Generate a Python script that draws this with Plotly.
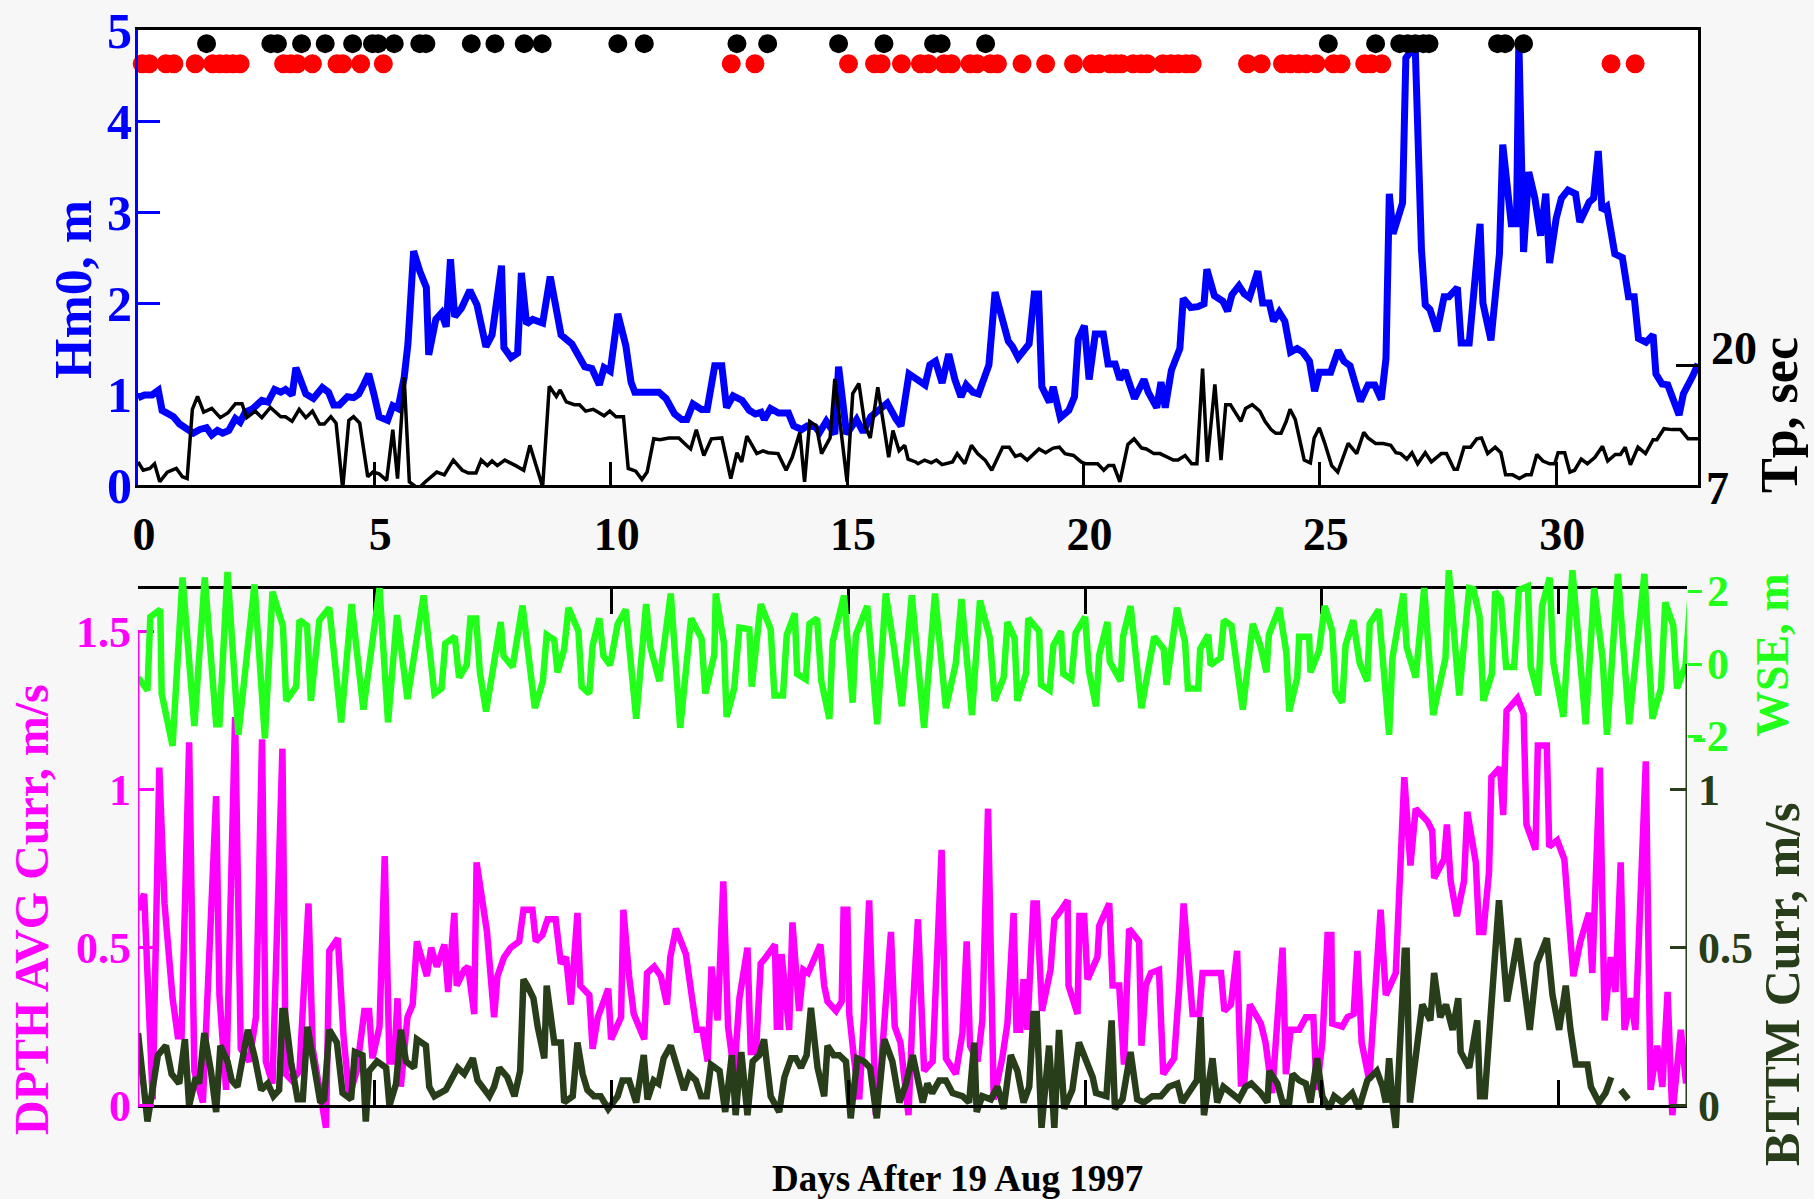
import plotly.graph_objects as go

# ---------------------------------------------------------------- data
# Upper panel: spectral wave height Hm0 (m) and peak period Tp (s)
hmo_day = [0.00, 0.14, 0.30, 0.43, 0.51, 0.62, 0.75, 0.88, 1.04, 1.17, 1.31, 1.45, 1.56, 1.68, 1.79, 1.92,
           2.06, 2.16, 2.27, 2.43, 2.62, 2.75, 2.89, 3.02, 3.12, 3.26, 3.34, 3.55, 3.71, 3.90, 4.03, 4.14,
           4.26, 4.43, 4.56, 4.67, 4.78, 4.88, 4.99, 5.10, 5.28, 5.39, 5.50, 5.63, 5.71, 5.83, 5.96, 6.10,
           6.15, 6.30, 6.42, 6.52, 6.61, 6.70, 6.84, 7.02, 7.17, 7.36, 7.49, 7.69, 7.74, 7.89, 8.03, 8.11,
           8.22, 8.35, 8.56, 8.72, 8.95, 9.18, 9.45, 9.60, 9.76, 9.86, 9.99, 10.15, 10.32, 10.43, 10.51, 11.02,
           11.17, 11.35, 11.50, 11.61, 11.74, 11.92, 12.04, 12.20, 12.35, 12.45, 12.59, 12.78, 12.93, 13.06, 13.18, 13.25,
           13.38, 13.55, 13.76, 13.87, 14.04, 14.16, 14.32, 14.42, 14.56, 14.74, 14.82, 14.99, 15.20, 15.34, 15.50, 15.67,
           15.85, 16.03, 16.14, 16.31, 16.48, 16.65, 16.75, 16.87, 17.01, 17.15, 17.28, 17.41, 17.52, 17.66, 17.78, 18.00,
           18.13, 18.29, 18.41, 18.50, 18.62, 18.85, 18.96, 19.05, 19.12, 19.28, 19.36, 19.51, 19.69, 19.81, 19.89, 20.02,
           20.12, 20.25, 20.42, 20.52, 20.67, 20.77, 20.88, 21.08, 21.28, 21.37, 21.55, 21.64, 21.73, 21.86, 22.04, 22.11,
           22.27, 22.42, 22.55, 22.61, 22.77, 22.95, 23.05, 23.14, 23.29, 23.40, 23.51, 23.69, 23.79, 23.93, 24.02, 24.14,
           24.26, 24.38, 24.52, 24.64, 24.78, 24.89, 24.99, 25.23, 25.39, 25.51, 25.64, 25.86, 26.02, 26.16, 26.30, 26.40,
           26.47, 26.55, 26.65, 26.75, 26.82, 26.94, 27.02, 27.15, 27.23, 27.33, 27.48, 27.63, 27.73, 27.91, 27.99, 28.16,
           28.39, 28.45, 28.62, 28.80, 28.87, 28.97, 29.05, 29.16, 29.21, 29.31, 29.42, 29.55, 29.67, 29.78, 29.86, 30.00,
           30.11, 30.25, 30.41, 30.50, 30.70, 30.79, 30.89, 30.97, 31.07, 31.24, 31.40, 31.53, 31.65, 31.74, 31.90, 32.05,
           32.11, 32.24, 32.36, 32.60, 32.69, 32.89, 33.00]
hmo_m = [0.96, 0.99, 0.99, 1.04, 0.82, 0.78, 0.75, 0.67, 0.62, 0.57, 0.61, 0.63, 0.55, 0.60, 0.57, 0.60,
         0.73, 0.69, 0.80, 0.84, 0.93, 0.91, 1.05, 1.02, 1.05, 0.99, 1.29, 1.00, 0.95, 1.07, 1.02, 0.88,
         0.88, 0.97, 0.96, 1.00, 1.11, 1.22, 1.00, 0.75, 0.71, 0.87, 0.84, 1.18, 1.55, 2.57, 2.35, 2.17,
         1.43, 1.82, 1.89, 1.74, 2.48, 1.85, 1.94, 2.14, 1.98, 1.52, 1.65, 2.41, 1.51, 1.40, 1.45, 2.33,
         1.77, 1.82, 1.78, 2.29, 1.65, 1.55, 1.30, 1.28, 1.10, 1.29, 1.25, 1.88, 1.53, 1.13, 1.02, 1.02,
         0.95, 0.78, 0.72, 0.72, 0.89, 0.83, 0.83, 1.31, 1.31, 0.85, 0.98, 0.93, 0.82, 0.78, 0.80, 0.72,
         0.84, 0.79, 0.79, 0.65, 0.61, 0.65, 0.64, 0.58, 0.70, 0.56, 1.30, 0.56, 0.72, 0.58, 0.75, 0.82,
         0.90, 0.73, 0.65, 1.22, 1.15, 1.10, 1.32, 1.36, 1.12, 1.44, 1.16, 0.97, 1.10, 1.02, 1.00, 1.32,
         2.12, 1.81, 1.58, 1.52, 1.40, 1.55, 2.10, 2.10, 1.08, 0.91, 1.08, 0.74, 0.82, 0.97, 1.60, 1.75,
         1.16, 1.66, 1.66, 1.33, 1.33, 1.16, 1.26, 0.95, 1.16, 1.02, 0.85, 1.13, 0.85, 1.26, 1.50, 2.05,
         1.95, 1.96, 1.99, 2.37, 2.08, 2.02, 1.91, 2.09, 2.19, 2.10, 2.06, 2.35, 2.00, 2.00, 1.80, 1.90,
         1.80, 1.46, 1.50, 1.46, 1.36, 1.03, 1.24, 1.24, 1.48, 1.36, 1.31, 0.92, 1.10, 1.10, 0.94, 1.39,
         3.20, 2.76, 2.93, 3.10, 4.69, 4.78, 4.78, 2.59, 1.98, 1.93, 1.69, 2.07, 2.07, 2.17, 1.56, 1.56,
         2.87, 2.00, 1.59, 2.54, 3.74, 3.30, 2.87, 2.87, 4.89, 2.56, 3.44, 3.15, 2.74, 3.20, 2.44, 2.93,
         3.15, 3.24, 3.20, 2.89, 3.11, 3.15, 3.67, 3.02, 3.06, 2.54, 2.50, 2.07, 2.07, 1.61, 1.57, 1.65,
         1.22, 1.11, 1.10, 0.77, 1.00, 1.20, 1.33]

tp_day = [0.00, 0.11, 0.25, 0.35, 0.46, 0.62, 0.81, 0.94, 1.04, 1.15, 1.26, 1.39, 1.56, 1.74, 1.90, 2.06,
          2.20, 2.30, 2.48, 2.62, 2.80, 3.02, 3.12, 3.26, 3.41, 3.55, 3.69, 3.84, 3.94, 4.08, 4.19, 4.33,
          4.46, 4.56, 4.69, 4.86, 4.97, 5.10, 5.26, 5.39, 5.49, 5.63, 5.74, 5.93, 6.08, 6.32, 6.48, 6.67,
          6.86, 6.99, 7.15, 7.26, 7.39, 7.49, 7.60, 7.76, 7.99, 8.16, 8.29, 8.43, 8.56, 8.70, 8.85, 8.93,
          9.06, 9.23, 9.34, 9.47, 9.63, 9.86, 9.98, 10.11, 10.27, 10.37, 10.53, 10.66, 10.77, 10.91, 11.04, 11.23,
          11.44, 11.60, 11.69, 11.81, 11.97, 12.13, 12.35, 12.54, 12.67, 12.77, 12.88, 13.09, 13.22, 13.33, 13.54, 13.71,
          13.84, 14.00, 14.10, 14.21, 14.35, 14.46, 14.64, 14.74, 15.00, 15.12, 15.25, 15.38, 15.49, 15.65, 15.76, 15.88,
          15.97, 16.10, 16.22, 16.29, 16.45, 16.50, 16.64, 16.78, 16.89, 17.01, 17.23, 17.33, 17.49, 17.63, 17.76, 17.92,
          18.06, 18.17, 18.29, 18.43, 18.56, 18.67, 18.81, 19.06, 19.20, 19.36, 19.49, 19.61, 19.79, 19.95, 20.05, 20.30,
          20.43, 20.53, 20.64, 20.77, 20.94, 21.07, 21.23, 21.33, 21.49, 21.62, 21.76, 21.90, 22.00, 22.15, 22.29, 22.40,
          22.52, 22.62, 22.78, 22.91, 23.01, 23.11, 23.33, 23.43, 23.57, 23.73, 23.84, 23.97, 24.07, 24.18, 24.29, 24.37,
          24.48, 24.67, 24.80, 24.88, 24.99, 25.10, 25.25, 25.38, 25.60, 25.78, 25.93, 26.02, 26.18, 26.34, 26.50, 26.61,
          26.71, 26.84, 26.95, 27.07, 27.23, 27.36, 27.57, 27.68, 27.84, 27.91, 28.05, 28.19, 28.32, 28.42, 28.55, 28.71,
          28.83, 28.93, 29.08, 29.22, 29.36, 29.47, 29.59, 29.72, 29.86, 29.97, 30.04, 30.18, 30.29, 30.39, 30.53, 30.66,
          30.82, 30.98, 31.09, 31.25, 31.36, 31.46, 31.57, 31.73, 31.89, 32.05, 32.13, 32.28, 32.45, 32.63, 32.79, 33.00]
tp_sec = [9.5, 8.6, 8.8, 9.3, 7.35, 8.4, 8.8, 7.9, 7.7, 15.2, 16.6, 14.9, 15.3, 14.3, 14.8, 15.8,
          15.8, 14.3, 15.0, 14.3, 15.4, 14.4, 14.4, 13.9, 15.2, 14.3, 15.0, 13.6, 13.6, 14.4, 13.7, 6.6,
          14.0, 14.4, 13.7, 7.9, 8.4, 8.2, 7.5, 13.0, 7.7, 18.7, 7.35, 6.6, 7.35, 8.4, 8.1, 9.7,
          8.6, 8.3, 8.3, 9.7, 9.1, 9.6, 9.1, 9.7, 9.1, 8.6, 11.3, 8.8, 6.8, 17.7, 16.6, 17.3,
          16.0, 15.7, 15.7, 15.0, 15.2, 14.5, 15.0, 14.4, 14.4, 8.8, 8.5, 7.6, 8.4, 12.0, 11.9, 12.1,
          12.1, 11.3, 10.9, 13.0, 10.2, 12.0, 12.1, 7.7, 10.5, 9.5, 12.3, 10.4, 10.7, 10.5, 10.4, 8.6,
          10.0, 12.7, 7.35, 13.9, 13.4, 10.4, 12.1, 18.5, 7.35, 16.9, 18.0, 13.4, 12.1, 17.6, 13.7, 10.0,
          12.9, 10.7, 11.3, 9.8, 9.5, 9.3, 9.7, 9.4, 9.7, 9.2, 9.5, 10.4, 9.3, 11.3, 10.4, 9.7,
          8.6, 9.8, 11.1, 11.1, 10.1, 10.3, 9.7, 10.9, 10.5, 11.0, 11.1, 10.4, 10.2, 9.5, 9.3, 9.3,
          8.6, 9.1, 9.1, 7.35, 11.4, 12.0, 11.0, 10.9, 10.4, 10.4, 10.0, 9.7, 9.7, 10.2, 9.3, 9.3,
          19.6, 9.5, 17.9, 9.7, 15.7, 15.7, 13.9, 15.3, 15.7, 15.0, 13.9, 13.0, 12.6, 12.6, 13.9, 15.2,
          14.1, 9.7, 9.4, 12.1, 13.2, 11.6, 9.1, 8.4, 11.5, 10.4, 12.7, 12.1, 11.5, 11.5, 11.3, 10.5,
          10.4, 9.8, 10.5, 9.3, 10.5, 9.5, 10.4, 10.4, 8.7, 8.7, 11.1, 11.1, 12.0, 12.1, 10.4, 11.1,
          10.5, 8.1, 8.1, 7.7, 8.1, 8.1, 10.3, 9.6, 9.3, 9.3, 10.5, 10.5, 8.4, 8.6, 9.8, 9.3,
          10.0, 11.2, 9.6, 10.3, 10.3, 11.1, 9.2, 11.1, 10.4, 11.9, 11.9, 13.1, 13.0, 13.0, 12.0, 12.0]

# Event marks along the top of the upper panel (days)
red_flag_day = [0.09, 0.24, 0.59, 0.76, 1.21, 1.58, 1.73, 1.87, 2.01, 2.16, 3.08, 3.23, 3.37, 3.69, 4.21,
                4.33, 4.71, 5.19, 12.55, 13.05, 15.03, 15.58, 15.72, 16.15, 16.55, 16.72, 17.05, 17.21, 17.60,
                17.75, 18.03, 18.18, 18.70, 19.20, 19.79, 20.18, 20.33, 20.56, 20.68, 20.80, 21.05, 21.22, 21.35,
                21.68, 21.85, 22.00, 22.17, 22.30, 23.47, 23.76, 24.21, 24.38, 24.55, 24.71, 24.92, 25.29, 25.45,
                25.95, 26.09, 26.31, 31.16, 31.67]
black_flag_day = [1.45, 2.81, 2.95, 3.46, 3.96, 4.54, 4.96, 5.08, 5.42, 5.96, 6.09, 7.05, 7.55, 8.17, 8.55,
                  10.15, 10.71, 12.67, 13.32, 14.82, 15.78, 16.83, 16.99, 17.93, 25.18, 26.18, 26.69, 26.86,
                  27.02, 27.19, 27.31, 28.76, 28.92, 29.31]

# Lower panel: depth-averaged current (m/s)
dpth_day = [0.00, 0.13, 0.31, 0.45, 0.56, 0.73, 0.84, 0.92, 1.08, 1.19, 1.37, 1.65, 1.72, 1.86, 2.05, 2.17,
            2.35, 2.49, 2.62, 2.70, 2.84, 3.05, 3.12, 3.25, 3.41, 3.60, 3.69, 3.90, 3.97, 4.04, 4.22, 4.34,
            4.46, 4.62, 4.78, 4.88, 4.95, 5.10, 5.21, 5.31, 5.41, 5.48, 5.55, 5.69, 5.80, 5.89, 6.10, 6.19,
            6.31, 6.47, 6.55, 6.68, 6.73, 6.89, 6.97, 7.10, 7.15, 7.37, 7.52, 7.59, 7.73, 7.87, 8.05, 8.14,
            8.33, 8.40, 8.54, 8.65, 8.82, 8.93, 9.04, 9.14, 9.28, 9.34, 9.53, 9.60, 9.71, 9.93, 9.99, 10.20,
            10.25, 10.37, 10.47, 10.69, 10.75, 10.90, 11.04, 11.17, 11.24, 11.36, 11.57, 11.71, 11.80, 11.92, 12.03, 12.11,
            12.24, 12.36, 12.46, 12.59, 12.70, 12.87, 12.94, 13.05, 13.15, 13.26, 13.45, 13.49, 13.56, 13.59, 13.75, 13.82,
            13.96, 14.05, 14.15, 14.41, 14.49, 14.56, 14.74, 14.86, 14.90, 14.98, 15.02, 15.12, 15.23, 15.33, 15.44, 15.58,
            15.68, 15.90, 15.98, 16.10, 16.27, 16.36, 16.47, 16.60, 16.78, 16.97, 17.06, 17.27, 17.41, 17.50, 17.57, 17.73,
            17.83, 17.95, 18.07, 18.25, 18.36, 18.49, 18.55, 18.63, 18.70, 18.78, 18.91, 18.98, 19.09, 19.27, 19.35, 19.45,
            19.63, 19.65, 19.84, 19.88, 19.98, 20.05, 20.26, 20.30, 20.51, 20.58, 20.72, 20.82, 20.93, 21.14, 21.19, 21.28,
            21.39, 21.56, 21.65, 21.88, 21.99, 22.08, 22.20, 22.27, 22.41, 22.48, 22.87, 22.94, 23.08, 23.21, 23.29, 23.36,
            23.48, 23.71, 23.81, 23.95, 24.17, 24.24, 24.34, 24.52, 24.66, 24.82, 24.89, 25.01, 25.12, 25.20, 25.22, 25.43,
            25.54, 25.67, 25.75, 25.84, 26.00, 26.24, 26.35, 26.56, 26.74, 26.87, 26.98, 27.14, 27.23, 27.33, 27.37, 27.58,
            27.64, 27.72, 27.85, 28.00, 28.07, 28.25, 28.32, 28.41, 28.53, 28.58, 28.76, 28.83, 28.90, 29.13, 29.26, 29.32,
            29.51, 29.56, 29.75, 29.80, 29.97, 30.12, 30.31, 30.46, 30.64, 30.71, 30.87, 30.97, 31.10, 31.20, 31.31, 31.39,
            31.52, 31.62, 31.84, 31.94, 32.08, 32.19, 32.30, 32.40, 32.58, 32.69]
dpth_curr = [0.62, 0.67, 0.02, 1.07, 0.64, 0.34, 0.22, 0.22, 1.15, 0.11, 0.01, 0.98, 0.35, 0.05, 1.23, 0.18,
             0.14, 0.28, 1.16, 0.14, 0.07, 1.13, 0.10, 0.08, 0.11, 0.64, 0.18, 0.00, -0.07, 0.49, 0.53, 0.22,
             0.03, 0.11, 0.30, 0.30, 0.15, 0.25, 0.79, 0.14, 0.14, 0.34, 0.06, 0.28, 0.32, 0.52, 0.41, 0.50,
             0.44, 0.51, 0.36, 0.61, 0.38, 0.43, 0.44, 0.29, 0.77, 0.55, 0.28, 0.41, 0.47, 0.50, 0.52, 0.62,
             0.62, 0.52, 0.54, 0.59, 0.59, 0.45, 0.47, 0.32, 0.61, 0.38, 0.35, 0.18, 0.28, 0.37, 0.21, 0.28,
             0.62, 0.41, 0.29, 0.21, 0.42, 0.44, 0.41, 0.32, 0.47, 0.56, 0.48, 0.33, 0.24, 0.24, 0.14, 0.44,
             0.27, 0.71, 0.25, 0.10, 0.34, 0.50, 0.17, 0.17, 0.45, 0.47, 0.51, 0.25, 0.25, 0.48, 0.24, 0.58,
             0.30, 0.43, 0.42, 0.51, 0.38, 0.33, 0.30, 0.33, 0.62, 0.62, 0.29, 0.15, 0.02, 0.28, 0.65, -0.03,
             0.10, 0.55, 0.25, 0.20, -0.03, 0.30, 0.59, 0.11, 0.14, 0.81, 0.15, 0.10, 0.23, 0.52, 0.19, 0.14,
             0.27, 0.94, 0.02, 0.15, 0.26, 0.61, 0.24, 0.24, 0.40, 0.24, 0.64, 0.64, 0.30, 0.43, 0.59, 0.61,
             0.65, 0.38, 0.29, 0.60, 0.60, 0.40, 0.47, 0.57, 0.64, 0.38, 0.38, 0.13, 0.56, 0.52, 0.19, 0.38,
             0.42, 0.43, 0.10, 0.15, 0.38, 0.64, 0.40, 0.29, 0.29, 0.42, 0.42, 0.30, 0.32, 0.49, 0.07, 0.07,
             0.32, 0.26, 0.20, 0.04, 0.50, 0.10, 0.24, 0.24, 0.28, 0.28, 0.05, 0.20, 0.54, 0.54, 0.26, 0.25,
             0.28, 0.29, 0.49, 0.20, 0.08, 0.62, 0.35, 0.42, 1.04, 0.76, 0.94, 0.91, 0.90, 0.87, 0.72, 0.78,
             0.89, 0.71, 0.60, 0.71, 0.93, 0.77, 0.55, 0.55, 0.74, 1.04, 1.07, 0.92, 1.25, 1.29, 1.24, 0.89,
             0.81, 1.14, 1.14, 0.82, 0.84, 0.78, 0.41, 0.52, 0.61, 0.42, 1.07, 0.27, 0.47, 0.36, 0.77, 0.24,
             0.34, 0.24, 1.09, 0.05, 0.19, 0.06, 0.36, -0.03, 0.24, 0.07]

# Lower panel: bottom current (m/s); None marks a data gap
bttm_day = [0.00, 0.10, 0.20, 0.42, 0.59, 0.71, 0.87, 0.99, 1.08, 1.22, 1.29, 1.40, 1.54, 1.65, 1.74, 1.89,
            1.98, 2.10, 2.32, 2.47, 2.60, 2.74, 2.86, 2.98, 3.05, 3.10, 3.23, 3.37, 3.48, 3.58, 3.72, 3.85,
            3.93, 4.04, 4.20, 4.32, 4.50, 4.58, 4.74, 4.81, 4.88, 5.05, 5.24, 5.31, 5.45, 5.55, 5.66, 5.83,
            5.89, 6.08, 6.15, 6.26, 6.50, 6.75, 6.89, 7.07, 7.17, 7.28, 7.42, 7.52, 7.63, 7.80, 7.95, 8.07,
            8.14, 8.22, 8.35, 8.44, 8.58, 8.63, 8.72, 8.79, 8.93, 9.00, 9.18, 9.28, 9.39, 9.49, 9.63, 9.77,
            9.93, 10.13, 10.23, 10.37, 10.52, 10.68, 10.76, 10.89, 10.99, 11.10, 11.25, 11.39, 11.53, 11.64, 11.78, 11.89,
            12.01, 12.10, 12.28, 12.40, 12.54, 12.62, 12.74, 12.87, 12.98, 13.12, 13.22, 13.36, 13.54, 13.65, 13.79, 13.89,
            14.00, 14.12, 14.21, 14.35, 14.49, 14.56, 14.69, 14.81, 14.95, 15.05, 15.19, 15.33, 15.46, 15.60, 15.76, 15.93,
            16.08, 16.22, 16.36, 16.57, 16.67, 16.77, 16.92, 17.06, 17.20, 17.41, 17.55, 17.66, 17.71, 17.83, 18.01, 18.15,
            18.28, 18.43, 18.57, 18.70, 18.82, 18.91, 18.98, 19.08, 19.24, 19.35, 19.45, 19.56, 19.73, 19.87, 20.16, 20.23,
            20.45, 20.56, 20.63, 20.79, 20.96, 21.10, 21.24, 21.42, 21.60, 21.77, 21.95, 22.05, 22.20, 22.36, 22.44, 22.51,
            22.69, 22.79, 22.92, 23.08, 23.25, 23.39, 23.51, 23.71, 23.85, 23.89, 24.06, 24.17, 24.31, 24.38, 24.52, 24.66,
            24.76, 24.90, 25.01, 25.15, 25.26, 25.43, 25.64, 25.78, 25.96, 26.16, 26.28, 26.35, 26.42, 26.49, 26.56, 26.75,
            26.79, 26.86, 27.12, 27.29, 27.37, 27.50, 27.62, 27.76, 27.88, 27.93, 28.11, 28.28, 28.34, 28.44, 28.74, 28.91,
            29.14, 29.39, 29.54, 29.75, 29.87, 30.01, 30.15, 30.25, 30.36, 30.61, 30.68, 30.85, 30.99, 31.11, 31.21, 31.31,
            31.47]
bttm_curr = [0.23, 0.11, -0.05, 0.16, 0.19, 0.10, 0.07, 0.21, 0.00, 0.09, 0.07, 0.23, 0.11, -0.02, 0.19, 0.14,
             0.08, 0.06, 0.24, 0.15, 0.05, 0.07, 0.03, 0.05, 0.30, 0.30, 0.14, 0.02, 0.02, 0.25, 0.11, 0.01,
             0.02, 0.24, 0.20, 0.04, 0.02, 0.17, 0.16, -0.05, 0.11, 0.14, 0.12, 0.00, 0.07, 0.24, 0.14, 0.12,
             0.21, 0.19, 0.06, 0.03, 0.05, 0.12, 0.10, 0.15, 0.08, 0.06, 0.03, 0.06, 0.12, 0.09, 0.03, 0.11,
             0.40, 0.38, 0.34, 0.25, 0.15, 0.38, 0.27, 0.20, 0.20, 0.01, 0.03, 0.20, 0.10, 0.05, 0.03, 0.03,
             -0.01, 0.03, 0.08, 0.08, 0.01, 0.16, 0.02, 0.08, 0.07, 0.15, 0.19, 0.11, 0.05, 0.10, 0.08, 0.03,
             0.03, 0.13, 0.11, -0.02, 0.16, -0.03, 0.17, -0.03, 0.14, 0.16, 0.21, 0.03, -0.02, 0.09, 0.15, 0.15,
             0.12, 0.16, 0.31, 0.12, 0.03, 0.19, 0.16, 0.16, 0.14, -0.04, 0.15, 0.14, 0.12, -0.04, 0.21, 0.14,
             0.01, 0.07, 0.16, 0.01, 0.07, 0.04, 0.08, 0.08, 0.04, 0.03, 0.01, 0.20, -0.02, 0.03, 0.02, 0.06,
             -0.01, 0.16, 0.11, 0.01, 0.06, 0.29, 0.29, -0.07, 0.19, -0.07, 0.24, -0.01, 0.05, 0.20, 0.09, 0.04,
             0.03, 0.27, -0.01, 0.02, 0.17, 0.02, 0.01, 0.03, 0.03, 0.06, 0.07, 0.01, 0.04, 0.08, 0.28, -0.03,
             0.15, 0.01, 0.06, 0.04, 0.02, 0.06, 0.07, 0.04, 0.01, 0.11, 0.07, 0.01, 0.01, 0.10, 0.08, 0.07,
             0.01, 0.15, 0.03, -0.01, 0.03, 0.01, 0.04, -0.01, 0.08, 0.11, 0.06, 0.01, 0.15, 0.01, -0.07, 0.49,
             0.49, 0.01, 0.32, 0.27, 0.42, 0.28, 0.32, 0.24, 0.34, 0.17, 0.12, 0.27, 0.03, 0.03, 0.65, 0.33,
             0.53, 0.24, 0.45, 0.53, 0.35, 0.24, 0.38, 0.24, 0.13, 0.13, 0.06, 0.01, 0.04, 0.09, None, 0.05,
             0.02]

# Lower panel: water surface elevation (m)
wse_day = [0.00, 0.20, 0.26, 0.47, 0.50, 0.73, 0.94, 1.19, 1.41, 1.65, 1.72, 1.89, 2.12, 2.46, 2.68, 2.84,
           3.06, 3.13, 3.34, 3.41, 3.57, 3.65, 3.83, 4.04, 4.29, 4.51, 4.76, 5.10, 5.28, 5.47, 5.69, 6.03,
           6.26, 6.41, 6.49, 6.69, 6.78, 6.94, 7.02, 7.14, 7.22, 7.35, 7.66, 7.72, 7.91, 8.12, 8.38, 8.55,
           8.63, 8.79, 8.86, 9.00, 9.09, 9.30, 9.37, 9.53, 9.60, 9.74, 9.83, 9.97, 10.13, 10.30, 10.52, 10.73,
           10.82, 11.01, 11.25, 11.45, 11.68, 11.90, 11.98, 12.17, 12.20, 12.37, 12.43, 12.59, 12.70, 12.91, 12.96, 13.15,
           13.36, 13.44, 13.62, 13.70, 13.87, 13.92, 14.10, 14.18, 14.34, 14.43, 14.60, 14.67, 14.91, 15.09, 15.16, 15.40,
           15.61, 15.79, 15.97, 16.13, 16.34, 16.60, 16.83, 17.06, 17.27, 17.39, 17.61, 17.78, 17.99, 18.09, 18.28, 18.36,
           18.51, 18.57, 18.75, 18.80, 19.03, 19.07, 19.25, 19.33, 19.49, 19.54, 19.71, 19.80, 20.00, 20.08, 20.23, 20.30,
           20.47, 20.52, 20.75, 20.80, 20.96, 21.19, 21.33, 21.46, 21.66, 21.72, 21.94, 22.11, 22.17, 22.39, 22.43, 22.60,
           22.65, 22.86, 22.93, 23.09, 23.33, 23.54, 23.70, 23.83, 23.88, 24.10, 24.25, 24.31, 24.48, 24.52, 24.73, 24.76,
           24.94, 25.06, 25.22, 25.29, 25.43, 25.50, 25.66, 25.80, 25.96, 26.01, 26.20, 26.42, 26.49, 26.72, 26.79, 26.98,
           27.16, 27.35, 27.61, 27.68, 27.90, 28.11, 28.20, 28.33, 28.41, 28.59, 28.66, 28.78, 28.89, 29.06, 29.16, 29.35,
           29.41, 29.57, 29.65, 29.81, 29.89, 30.10, 30.29, 30.46, 30.57, 30.75, 30.93, 31.02, 31.25, 31.49, 31.81, 31.98,
           32.16, 32.25, 32.42, 32.50, 32.68, 32.79, 32.89]
wse_m = [-0.37, -0.72, 1.29, 1.49, -0.81, -2.24, 2.37, -1.70, 2.37, -1.65, -1.65, 2.52, -1.94, 2.18, -2.04, 1.98,
         1.05, -1.01, -0.62, 1.20, 1.05, -1.01, 1.20, 1.54, -1.60, 1.64, -1.25, 2.08, -1.60, 1.34, -0.96, 1.88,
         -0.81, -0.67, 0.56, 0.75, -0.37, -0.03, 1.25, 1.25, -0.23, -1.30, 1.15, 0.22, -0.08, 1.60, -1.21, -0.47,
         0.80, 0.66, -0.23, 0.41, 1.54, 0.90, -0.62, -0.81, 0.51, 1.25, 0.22, -0.03, 1.10, 1.49, -1.50, 1.64,
         0.46, -0.47, 1.93, -1.75, 1.25, 0.70, -0.81, 0.26, 1.93, 0.60, -1.45, -0.67, 1.00, 0.95, -0.62, 1.64,
         0.95, -0.86, -0.86, 0.80, 1.39, -0.27, -0.42, 1.10, 1.25, -0.47, -1.50, 0.61, 1.88, -1.06, 0.80, 1.59,
         -1.65, 1.93, 0.41, -1.16, 1.88, -1.75, 1.93, -1.21, 0.02, 1.78, -1.40, 1.74, 0.71, -1.01, -0.37, 1.15,
         0.71, -1.01, -0.27, 1.25, 0.90, -0.57, -0.72, 0.51, 0.90, -0.27, -0.42, 0.85, 1.29, -0.18, -1.16, 0.26,
         1.15, 0.07, -0.47, 0.75, 1.59, -1.21, -0.18, 0.75, 0.41, -0.57, 1.54, 0.61, -0.67, -0.67, 0.41, 0.80,
         -0.03, 0.17, 1.20, 1.05, -1.25, 1.10, 0.51, -0.23, 0.80, 1.54, 0.31, -1.30, -0.37, 0.75, 0.75, -0.23,
         0.36, 1.59, 0.90, -0.76, -1.06, 0.51, 1.20, 0.02, -0.47, 1.10, 1.49, -1.94, 0.17, 1.93, 0.46, -0.37,
         2.08, -1.40, 0.17, 2.57, -0.86, 2.08, 2.05, 1.29, -1.01, -0.27, 1.98, 1.78, -0.08, -0.08, 2.03, 2.13,
         -0.08, -0.86, 1.59, 2.37, 0.02, -1.45, 2.57, 0.02, -1.65, 2.08, 0.12, -1.94, 2.47, -1.65, 2.47, -1.50,
         -0.67, 1.69, 1.05, -0.67, -0.03, 1.98, 1.39]

x_tick_days = [0, 5, 10, 15, 20, 25, 30]
hmo_ticks = [0, 1, 2, 3, 4, 5]
tp_ticks = [7, 20]
tp_tick_text = ["7", "20"]
dpth_ticks = [0, 0.5, 1, 1.5]
dpth_tick_text = ["0", "0.5", "1", "1.5"]
bttm_ticks = [0, 0.5, 1]
bttm_tick_text = ["0", "0.5", "1"]
wse_ticks = [-2, 0, 2]
wse_tick_text = ["-2", "0", "2"]

# ---------------------------------------------------------------- styling
W, H = 1814, 1199
FONT = "Liberation Serif, Times New Roman, serif"
BLUE, RED, MAGENTA = "#0000ff", "#ff0000", "#ff00ff"
GREEN, OLIVE = "#22ff1a", "#283d1a"
BG = "#f7f7f7"

RED_LEVEL, BLACK_LEVEL = 4.63, 4.85     # rows of event marks (Hm0 units)
TOP_X_MAX, LOW_X_MAX = 33.0, 32.71
DPTH_RANGE = [-0.077, 1.637]
WSE_RANGE = [-12.77, 2.85]


def px_x(px):
    return px / W


def px_y(py):
    return 1 - py / H


def tfont(size, color):
    return dict(family=FONT, size=size, color=color, weight="bold")


fig = go.Figure()

# upper panel
fig.add_trace(go.Scatter(x=hmo_day, y=hmo_m, mode="lines", xaxis="x", yaxis="y",
                         line=dict(color=BLUE, width=7), hoverinfo="skip"))
fig.add_trace(go.Scatter(x=red_flag_day, y=[RED_LEVEL] * len(red_flag_day), mode="markers",
                         xaxis="x", yaxis="y", marker=dict(color=RED, size=19, line=dict(width=0)),
                         cliponaxis=False, hoverinfo="skip"))
fig.add_trace(go.Scatter(x=black_flag_day, y=[BLACK_LEVEL] * len(black_flag_day), mode="markers",
                         xaxis="x", yaxis="y", marker=dict(color="black", size=19, line=dict(width=0)),
                         cliponaxis=False, hoverinfo="skip"))
fig.add_trace(go.Scatter(x=tp_day, y=tp_sec, mode="lines", xaxis="x", yaxis="y2",
                         line=dict(color="black", width=3.5), hoverinfo="skip"))

# lower panel
fig.add_trace(go.Scatter(x=dpth_day, y=dpth_curr, mode="lines", xaxis="x2", yaxis="y3",
                         line=dict(color=MAGENTA, width=6.5), hoverinfo="skip"))
fig.add_trace(go.Scatter(x=wse_day, y=wse_m, mode="lines", xaxis="x2", yaxis="y4",
                         line=dict(color=GREEN, width=6.5), hoverinfo="skip"))
fig.add_trace(go.Scatter(x=bttm_day, y=bttm_curr, mode="lines", xaxis="x2", yaxis="y5",
                         line=dict(color=OLIVE, width=6.5), connectgaps=False, hoverinfo="skip"))
# carrier for the top frame axis of the lower panel
fig.add_trace(go.Scatter(x=[], y=[], xaxis="x3", yaxis="y3", showlegend=False, hoverinfo="skip"))

top_dom_x = [px_x(138), px_x(1698)]
low_dom_x = [px_x(138), px_x(1687)]

common = dict(showgrid=False, zeroline=False, automargin=False)

fig.update_layout(
    width=W, height=H, margin=dict(l=0, r=0, t=0, b=0, autoexpand=False),
    paper_bgcolor=BG, plot_bgcolor="rgba(0,0,0,0)", showlegend=False,
    xaxis=dict(domain=top_dom_x, range=[0, TOP_X_MAX], anchor="y", tickvals=x_tick_days,
               ticks="inside", ticklen=23, tickwidth=3, tickcolor="black",
               showline=True, linewidth=3, linecolor="black", mirror=True,
               tickfont=tfont(46, "black"), ticklabelstandoff=7, ticklabelshift=6, **common),
    yaxis=dict(domain=[px_y(485), px_y(30)], range=[0, 5], anchor="x", tickvals=hmo_ticks,
               ticks="inside", ticklen=22, tickwidth=3, tickcolor=BLUE,
               showline=True, linewidth=3, linecolor=BLUE,
               tickfont=tfont(50, BLUE), ticklabelstandoff=-7, **common),
    yaxis2=dict(overlaying="y", side="right", anchor="x", range=[7, 56.3], tickvals=tp_ticks,
                ticks="inside", ticklen=22, tickwidth=3, tickcolor="black",
                showline=True, linewidth=3, linecolor="black", showticklabels=False, **common),
    xaxis2=dict(domain=low_dom_x, range=[0, LOW_X_MAX], anchor="free", position=px_y(1105.7),
                tickvals=x_tick_days, ticks="inside", ticklen=25, tickwidth=3, tickcolor="black",
                showticklabels=False, showline=True, linewidth=3, linecolor="black", **common),
    xaxis3=dict(domain=low_dom_x, range=[0, LOW_X_MAX], overlaying="x2", side="top", anchor="y3",
                tickvals=x_tick_days, ticks="inside", ticklen=25, tickwidth=3, tickcolor="black",
                showticklabels=False, showline=True, linewidth=3, linecolor="black", **common),
    yaxis3=dict(domain=[px_y(1130), px_y(588.5)], range=DPTH_RANGE, anchor="x2", side="left",
                tickvals=dpth_ticks, ticktext=dpth_tick_text, ticks="inside", ticklen=16,
                tickwidth=3, tickcolor=MAGENTA, showline=False,
                tickfont=tfont(44, MAGENTA), ticklabelstandoff=6, **common),
    yaxis4=dict(domain=[px_y(1130), px_y(560)], range=WSE_RANGE, anchor="x2", side="right",
                tickvals=wse_ticks, ticks="outside", ticklen=14, tickwidth=3, tickcolor=GREEN,
                showline=False, showticklabels=False, **common),
    yaxis5=dict(overlaying="y3", range=DPTH_RANGE, anchor="x2", side="right",
                tickvals=bttm_ticks, ticktext=bttm_tick_text, ticks="inside", ticklen=17,
                tickwidth=3, tickcolor=OLIVE, showline=False,
                tickfont=tfont(44, OLIVE), ticklabelstandoff=10, **common),
)

# white plotting areas and the partial frame lines of the lower panel
fig.add_shape(type="rect", xref="x", yref="y", x0=0, x1=TOP_X_MAX, y0=0, y1=5,
              fillcolor="white", line=dict(width=0), layer="below")
fig.add_shape(type="rect", xref="x2", yref="y3", x0=0, x1=LOW_X_MAX, y0=0, y1=1.5,
              fillcolor="white", line=dict(width=0), layer="below")
fig.add_shape(type="line", xref="x2", yref="y3", x0=0, x1=0, y0=0, y1=1.5,
              line=dict(color=MAGENTA, width=3))
fig.add_shape(type="line", xref="x2", yref="y3", x0=LOW_X_MAX, x1=LOW_X_MAX, y0=0, y1=1.398,
              line=dict(color=OLIVE, width=3))

# Tp tick labels beside the right axis of the upper panel
for val, txt, left_px, shift in zip(tp_ticks, tp_tick_text, [1704, 1709], [-3, 17]):
    fig.add_annotation(text=txt, x=px_x(left_px), y=val, xref="paper", yref="y2",
                       xanchor="left", yanchor="middle", yshift=shift, showarrow=False,
                       font=tfont(46, "black"))

# WSE tick labels, right-aligned just outside the right frame
for val, txt in zip(wse_ticks, wse_tick_text):
    fig.add_annotation(text=txt, x=px_x(1731), y=val, xref="paper", yref="y4",
                       xanchor="right", yanchor="middle", showarrow=False,
                       font=tfont(44, GREEN))

# axis titles
titles = [
    ("Hm0, m", 73, 290, 52, BLUE, -90),
    ("Tp, sec", 1779, 415, 52, "black", -90),
    ("DPTH AVG Curr, m/s", 32, 910, 48, MAGENTA, -90),
    ("WSE, m", 1772, 655, 46, GREEN, -90),
    ("BTTM Curr, m/s", 1782, 985, 50, OLIVE, -90),
    ("Days After 19 Aug 1997", 957, 1178, 37, "black", 0),
]
for text, x, y, size, color, angle in titles:
    fig.add_annotation(text=text, x=px_x(x), y=px_y(y), xref="paper", yref="paper",
                       xanchor="center", yanchor="middle", showarrow=False,
                       textangle=angle, font=tfont(size, color))

fig.write_html("out.html")
